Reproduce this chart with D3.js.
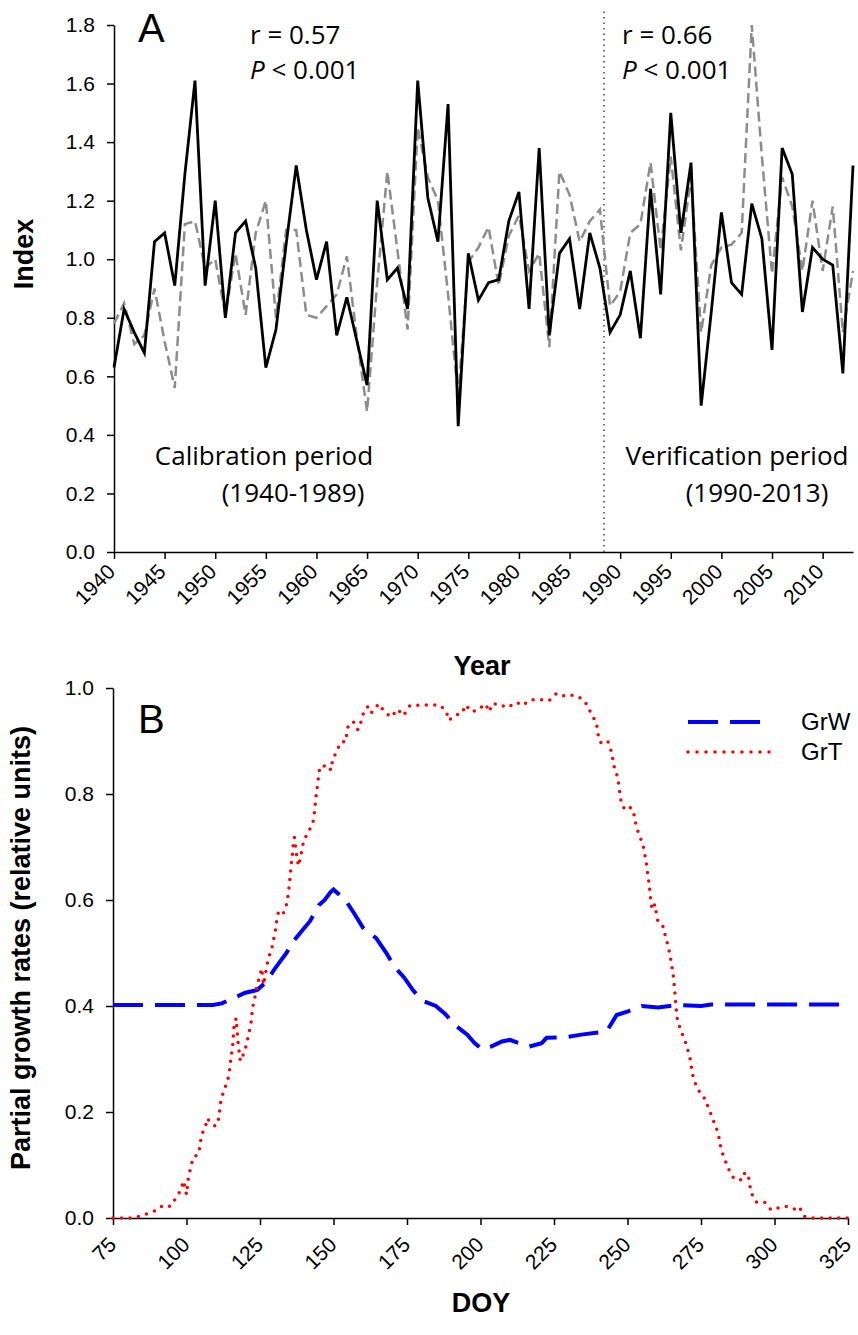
<!DOCTYPE html>
<html>
  <head>
    <meta charset="utf-8">
    <title>Index and partial growth rates</title>
    <script src="https://d3js.org/d3.v7.min.js"></script>
    <style>
      body { margin: 0; background: #fff; }
      .tick text { font-family: "Liberation Sans", Arial, sans-serif; font-size: 21px; fill: #000; }
      .tick line, .domain { stroke: #000; stroke-width: 1.5px; }
      .title { font-family: "Liberation Sans", Arial, sans-serif; font-weight: bold; font-size: 27px; }
      .note { font-family: "Open Sans", sans-serif; font-size: 26px; }
    </style>
  </head>
  <body>
    <svg width="858" height="1335"></svg>

    <script>
      // ---- panel A data: index per year ----
      const startYear = 1940;
      const observed = [
        0.63, 0.83, 0.75, 0.68, 1.06, 1.09, 0.91, 1.29, 1.61, 0.91,   // 1940s
        1.20, 0.80, 1.09, 1.13, 0.97, 0.63, 0.76, 1.05, 1.32, 1.10,   // 1950s
        0.93, 1.06, 0.74, 0.87, 0.72, 0.57, 1.20, 0.93, 0.97, 0.83,   // 1960s
        1.61, 1.21, 1.06, 1.53, 0.43, 1.02, 0.86, 0.92, 0.93, 1.13,   // 1970s
        1.23, 0.83, 1.38, 0.74, 1.02, 1.07, 0.83, 1.09, 0.97, 0.75,   // 1980s
        0.81, 0.96, 0.73, 1.24, 0.88, 1.50, 1.09, 1.33, 0.50, 0.82,   // 1990s
        1.16, 0.92, 0.88, 1.19, 1.07, 0.69, 1.38, 1.29, 0.82, 1.04,   // 2000s
        1.00, 0.98, 0.61, 1.32                                        // 2010s
      ];
      const modelled = [
        0.78, 0.85, 0.71, 0.74, 0.90, 0.72, 0.56, 1.12, 1.13, 0.97,
        1.00, 0.81, 1.02, 0.81, 1.09, 1.20, 0.80, 1.10, 1.10, 0.81,
        0.80, 0.84, 0.88, 1.01, 0.73, 0.48, 0.92, 1.30, 1.03, 0.76,
        1.45, 1.28, 1.20, 0.88, 0.53, 0.99, 1.04, 1.11, 0.91, 1.08,
        1.15, 0.96, 1.02, 0.70, 1.30, 1.22, 1.06, 1.13, 1.17, 0.84,
        0.89, 1.09, 1.12, 1.33, 1.03, 1.35, 1.03, 1.28, 0.75, 0.98,
        1.04, 1.05, 1.09, 1.80, 1.35, 0.95, 1.28, 1.18, 0.96, 1.20,
        0.96, 1.18, 0.75, 0.96
      ];
      const yearTicks = d3.range(1940, 2011, 5);
      const indexTicks = [0, 0.2, 0.4, 0.6, 0.8, 1.0, 1.2, 1.4, 1.6, 1.8];
      const splitYear = 1988.4;

      // ---- panel B data: partial growth rates by day of year ----
      const grwDoy = [75, 109, 112, 116, 120, 124, 127, 130, 134, 136, 139, 142, 145, 147, 149, 150,
        152, 154, 157, 160, 164.5, 168, 170.7, 174, 177, 180.3, 184.8, 188, 191.5, 195.5, 198, 200.6,
        203.4, 207.3, 210, 213, 216.3, 220.8, 222.5, 228.7, 234.3, 240, 242.9, 246.3, 250.2, 254.8,
        260.4, 267.2, 275, 278.5, 325];
      const grwVal = [0.402, 0.402, 0.405, 0.415, 0.425, 0.43, 0.445, 0.47, 0.50, 0.52, 0.54, 0.56, 0.59, 0.60, 0.615, 0.62,
        0.61, 0.60, 0.575, 0.548, 0.528, 0.50, 0.474, 0.454, 0.43, 0.41, 0.40, 0.385, 0.363, 0.346, 0.33, 0.318,
        0.323, 0.333, 0.336, 0.33, 0.323, 0.33, 0.34, 0.341, 0.346, 0.35, 0.352, 0.383, 0.39, 0.40,
        0.397, 0.402, 0.40, 0.403, 0.403];

      const grtDoy = [75, 78, 81, 84, 87, 90, 92, 94.5, 96.5, 98, 99, 100, 100.7, 101.5, 102.2, 104, 104.7, 105,
        106.4, 107, 108.3, 109.8, 111, 111.7, 112.8, 114, 114.6, 115, 115.4, 115.8, 116, 116.2, 116.9, 117.4,
        117.7, 118.3, 119.7, 120.5, 121.1, 121.9, 122.2, 122.6, 123.4, 123.9, 124.8, 125.6, 126.2, 127.3,
        127.9, 129, 129.6, 130.2, 130.7, 131.3, 132.8, 133.9, 134.5, 134.9, 135.2, 135.5, 135.8, 136.2,
        136.4, 136.7, 137.5, 138.1, 138.6, 139.8, 141.1, 142.9, 143.4, 144.1, 144.9, 145.4, 148.3, 149.1,
        149.7, 151.1, 152.5, 154.3, 154.5, 155.1, 156.8, 158.3, 159.5, 160.2, 161.7, 162.8, 165.4, 167.3,
        169.6, 171.8, 173.8, 176, 177.8, 180.5, 183.4, 185.9, 188.2, 189.3, 191, 193.8, 194.9, 197, 198.9,
        201.7, 203, 203.9, 206.2, 209, 210.7, 212.4, 213.9, 217.5, 220.6, 223.3, 225.9, 228.5, 230.7, 233.2,
        235.5, 237.2, 238.3, 239.4, 240.3, 241.4, 243.4, 244.6, 245.1, 245.7, 246.6, 247.1, 247.5, 248,
        249.3, 250.8, 251.9, 252.5, 253.1, 254.2, 255.3, 255.9, 256.4, 256.8, 257.2, 257.6, 257.9, 258.4,
        259.3, 259.8, 260.4, 262.3, 262.9, 263.8, 264.4, 264.9, 265.5, 265.8, 266.1, 266.3, 266.6, 266.9,
        267.2, 268.1, 269.5, 270.4, 271.2, 271.7, 272.3, 273.4, 275.1, 276.8, 277.4, 278.5, 279.6, 280.8,
        281.3, 281.9, 283, 284.2, 285.9, 287.6, 288.7, 289.8, 291, 291.5, 292.1, 293.8, 296.6, 298.9, 300.6,
        303.4, 305.7, 307.4, 308.5, 310.2, 313, 325];
      const grtVal = [0, 0, 0, 0.003, 0.009, 0.015, 0.024, 0.022, 0.038, 0.052, 0.07, 0.044, 0.079, 0.096, 0.114, 0.12, 0.138, 0.156,
        0.17, 0.188, 0.18, 0.173, 0.188, 0.222, 0.242, 0.259, 0.277, 0.296, 0.313, 0.33, 0.348, 0.365, 0.377, 0.34,
        0.323, 0.296, 0.313, 0.33, 0.346, 0.365, 0.383, 0.40, 0.42, 0.437, 0.454, 0.471, 0.44, 0.475,
        0.491, 0.508, 0.525, 0.541, 0.562, 0.578, 0.573, 0.588, 0.607, 0.625, 0.642, 0.659, 0.677, 0.694,
        0.711, 0.718, 0.683, 0.664, 0.676, 0.71, 0.726, 0.743, 0.76, 0.797, 0.832, 0.852, 0.854, 0.845,
        0.864, 0.881, 0.898, 0.899, 0.915, 0.931, 0.936, 0.921, 0.938, 0.953, 0.965, 0.953, 0.97, 0.955,
        0.945, 0.96, 0.948, 0.967, 0.967, 0.968, 0.968, 0.968, 0.958, 0.939, 0.948, 0.953, 0.968, 0.955, 0.958,
        0.97, 0.955, 0.97, 0.97, 0.963, 0.968, 0.973, 0.967, 0.978, 0.978, 0.976, 0.99, 0.985, 0.987, 0.984,
        0.975, 0.957, 0.945, 0.935, 0.902, 0.894, 0.898, 0.879, 0.862, 0.845, 0.833, 0.815, 0.797, 0.78,
        0.77, 0.775, 0.77, 0.753, 0.736, 0.72, 0.703, 0.686, 0.669, 0.652, 0.636, 0.617, 0.599, 0.582,
        0.592, 0.575, 0.558, 0.549, 0.531, 0.514, 0.498, 0.481, 0.462, 0.444, 0.427, 0.41, 0.393, 0.377,
        0.37, 0.354, 0.336, 0.319, 0.303, 0.286, 0.267, 0.249, 0.232, 0.222, 0.208, 0.195, 0.178, 0.161,
        0.145, 0.128, 0.112, 0.094, 0.077, 0.077, 0.071, 0.084, 0.084, 0.065, 0.047, 0.03, 0.03, 0.015, 0.018,
        0.022, 0.02, 0.015, 0.02, 0.003, 0, 0];
      const doyTicks = d3.range(75, 326, 25);
      const rateTicks = [0, 0.2, 0.4, 0.6, 0.8, 1.0];

      const svg = d3.select("svg");

      // rotate bottom tick labels like the original
      function tiltLabels(g, dx, dy) {
        g.selectAll("text")
          .attr("text-anchor", "end")
          .attr("dy", null)
          .attr("y", 0)
          .attr("transform", "translate(" + dx + "," + dy + ") rotate(-45)");
      }

      // ===================== Panel A =====================
      const xA = d3.scaleLinear().domain([1940, 2013]).range([114, 853]);
      const yA = d3.scaleLinear().domain([0, 1.8]).range([552, 25]);

      const gA = svg.append("g");

      gA.append("g")
        .attr("transform", "translate(" + xA.range()[0] + ",0)")
        .call(d3.axisLeft(yA).tickValues(indexTicks).tickFormat(d3.format(".1f"))
          .tickSize(7).tickSizeOuter(0).tickPadding(12));

      gA.append("g")
        .attr("transform", "translate(0," + yA(0) + ")")
        .call(d3.axisBottom(xA).tickValues(yearTicks).tickFormat(d3.format("d"))
          .tickSize(7).tickSizeOuter(0))
        .call(tiltLabels, 2, 21);

      // split between calibration and verification
      gA.append("line")
        .attr("x1", xA(splitYear)).attr("x2", xA(splitYear))
        .attr("y1", yA(0)).attr("y2", 10)
        .attr("stroke", "#444").attr("stroke-width", 1.5)
        .attr("stroke-dasharray", "1.5,4");

      const years = observed.map((d, i) => startYear + i);

      const lineA = d3.line().x((d, i) => xA(years[i])).y(d => yA(d));

      gA.append("path").datum(modelled)
        .attr("d", lineA)
        .attr("fill", "none").attr("stroke", "#8c8c8c")
        .attr("stroke-width", 2.5).attr("stroke-dasharray", "10,5");

      gA.append("path").datum(observed)
        .attr("d", lineA)
        .attr("fill", "none").attr("stroke", "#000")
        .attr("stroke-width", 2.8);

      gA.append("text").attr("x", 138).attr("y", 42)
        .attr("font-family", "Liberation Sans, Arial").attr("font-size", 40).text("A");

      gA.append("text").attr("class", "note").attr("x", 250).attr("y", 44).text("r = 0.57");
      gA.append("text").attr("class", "note").attr("x", 250).attr("y", 79)
        .html('<tspan font-style="italic">P</tspan> &lt; 0.001');
      gA.append("text").attr("class", "note").attr("x", 622).attr("y", 44).text("r = 0.66");
      gA.append("text").attr("class", "note").attr("x", 622).attr("y", 79)
        .html('<tspan font-style="italic">P</tspan> &lt; 0.001');

      gA.append("text").attr("class", "note").attr("x", 264).attr("y", 465)
        .attr("text-anchor", "middle").text("Calibration period");
      gA.append("text").attr("class", "note").attr("x", 293).attr("y", 502)
        .attr("text-anchor", "middle").text("(1940-1989)");
      gA.append("text").attr("class", "note").attr("x", 737).attr("y", 465)
        .attr("text-anchor", "middle").text("Verification period");
      gA.append("text").attr("class", "note").attr("x", 757).attr("y", 502)
        .attr("text-anchor", "middle").text("(1990-2013)");

      gA.append("text").attr("class", "title")
        .attr("transform", "translate(33,254) rotate(-90)")
        .attr("text-anchor", "middle").text("Index");
      gA.append("text").attr("class", "title")
        .attr("x", 482).attr("y", 675).attr("text-anchor", "middle").text("Year");

      // ===================== Panel B =====================
      const xB = d3.scaleLinear().domain([75, 325]).range([113, 848]);
      const yB = d3.scaleLinear().domain([0, 1]).range([1218, 688]);

      const gB = svg.append("g");

      gB.append("g")
        .attr("transform", "translate(" + xB.range()[0] + ",0)")
        .call(d3.axisLeft(yB).tickValues(rateTicks).tickFormat(d3.format(".1f"))
          .tickSize(7).tickSizeOuter(0).tickPadding(12));

      gB.append("g")
        .attr("transform", "translate(0," + yB(0) + ")")
        .call(d3.axisBottom(xB).tickValues(doyTicks).tickFormat(d3.format("d"))
          .tickSize(7).tickSizeOuter(0))
        .call(tiltLabels, 4, 28);

      const lineB = d3.line().x(d => xB(d[0])).y(d => yB(d[1]));

      const grw = grwDoy.map((d, i) => [d, grwVal[i]]);
      const grt = grtDoy.map((d, i) => [d, grtVal[i]]);

      gB.append("path").datum(grw)
        .attr("d", lineB)
        .attr("fill", "none").attr("stroke", "#0000ff")
        .attr("stroke-width", 4).attr("stroke-dasharray", "30,12");

      gB.append("path").datum(grt)
        .attr("d", lineB)
        .attr("fill", "none").attr("stroke", "#ff0000")
        .attr("stroke-width", 3.5).attr("stroke-linecap", "round")
        .attr("stroke-dasharray", "0,8.5");

      gB.append("text").attr("x", 138).attr("y", 733)
        .attr("font-family", "Liberation Sans, Arial").attr("font-size", 40).text("B");

      // legend
      const legend = [
        { name: "GrW", color: "#0000ff", dash: "30,12", cap: "butt", width: 4, len: 72 },
        { name: "GrT", color: "#ff0000", dash: "0,9", cap: "round", width: 3.5, len: 84 }
      ];
      const lg = gB.selectAll(".legend").data(legend).enter().append("g")
        .attr("transform", (d, i) => "translate(688," + (722 + i * 30) + ")");
      lg.append("line")
        .attr("x1", 0).attr("x2", d => d.len).attr("y1", 0).attr("y2", 0)
        .attr("stroke", d => d.color).attr("stroke-width", d => d.width)
        .attr("stroke-linecap", d => d.cap).attr("stroke-dasharray", d => d.dash);
      lg.append("text").attr("x", 113).attr("y", 8)
        .attr("font-family", "Liberation Sans, Arial").attr("font-size", 24)
        .text(d => d.name);

      gB.append("text").attr("class", "title")
        .attr("transform", "translate(30,948) rotate(-90)")
        .attr("text-anchor", "middle").text("Partial growth rates (relative units)");
      gB.append("text").attr("class", "title").attr("font-size", 28)
        .attr("x", 481).attr("y", 1312).attr("text-anchor", "middle").text("DOY");
    </script>
  </body>
</html>
